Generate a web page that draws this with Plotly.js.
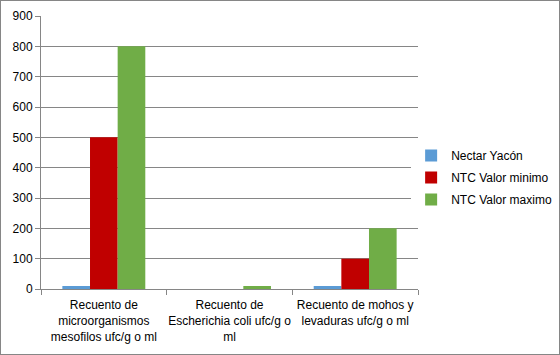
<!DOCTYPE html>
<html><head><meta charset="utf-8">
<script src="https://cdn.plot.ly/plotly-3.0.1.min.js"></script>
<style>html,body{margin:0;padding:0;background:#fff;}#wrap{width:560px;height:355px;box-sizing:border-box;border:1px solid #868686;}#chart{width:558px;height:353px;}</style>
</head><body><div id="wrap"><div id="chart"></div></div>
<script>
const categories = ["Recuento de<br>microorganismos<br>mesofilos ufc/g o ml", "Recuento de<br>Escherichia coli ufc/g o<br>ml", "Recuento de mohos y<br>levaduras ufc/g o ml"];
const nectarYacon = [10, 0, 10];
const ntcMin = [500, 0, 100];
const ntcMax = [800, 10, 200];
const seriesNames = ["Nectar Yacón", "NTC Valor minimo", "NTC Valor maximo"];
const colors = ["#5B9BD5", "#C00000", "#70AD47"];
const values = [nectarYacon, ntcMin, ntcMax];
const traces = values.map((v, i) => ({
  type: 'bar', x: categories, y: v, name: seriesNames[i],
  marker: {color: colors[i]}, legendgroup: 'g' + i
}));
const layout = {
  width: 558, height: 353,
  margin: {l: 40, r: 141, t: 15, b: 65, autoexpand: false},
  paper_bgcolor: '#fff', plot_bgcolor: '#fff',
  font: {family: 'Liberation Sans, Arial, sans-serif', size: 11, color: '#000'},
  barmode: 'group', bargap: 0.34, bargroupgap: 0,
  xaxis: {showline: true, linecolor: '#868686', linewidth: 1, ticks: 'outside', tickson: 'boundaries',
    ticklen: 5, tickcolor: '#868686', showgrid: false, tickangle: 0, ticklabelstandoff: 5,
    tickfont: {size: 12, color: '#000'}, automargin: false},
  yaxis: {range: [0, 900], dtick: 100, showline: true, linecolor: '#868686', linewidth: 1,
    ticks: 'outside', ticklen: 5, tickcolor: '#868686', gridcolor: '#868686', gridwidth: 1,
    zeroline: false, tickfont: {size: 12, color: '#000'}, automargin: false},
  legend: {xref: 'container', yref: 'container', x: 0.735, y: 0.5, xanchor: 'left', yanchor: 'middle',
    traceorder: 'grouped', tracegroupgap: 3, font: {size: 12}, itemwidth: 30},
  showlegend: true
};
Plotly.newPlot('chart', traces, layout, {displayModeBar: false, staticPlot: true});
</script></body></html>
